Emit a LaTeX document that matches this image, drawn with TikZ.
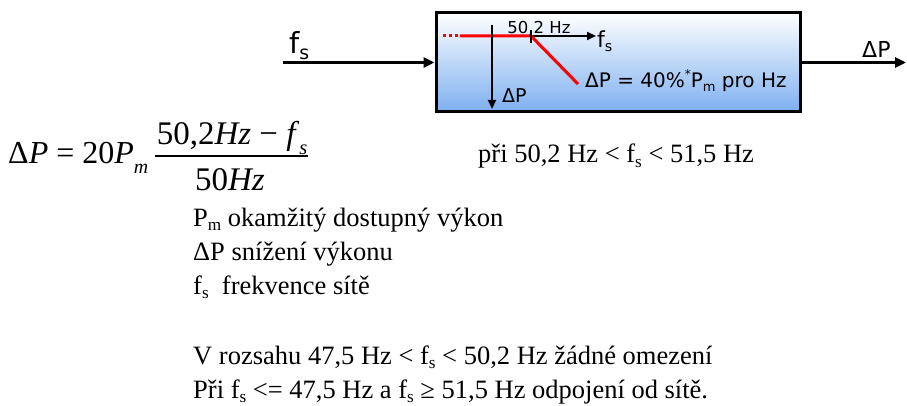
\documentclass[tikz,border=0pt]{standalone}
\usepackage{fontspec}
\usepackage{graphicx}
\setmainfont{Liberation Serif}
\newfontfamily\vsans{DejaVu Sans}
\usetikzlibrary{arrows.meta}
\newcommand{\lsub}[1]{\raisebox{-0.18em}{\scalebox{0.65}{#1}}}
\newcommand{\msub}[1]{\raisebox{-0.3em}{\scalebox{0.62}{#1}}}
\newcommand{\usup}[1]{\raisebox{0.45em}{\scalebox{0.6}{#1}}}
\begin{document}
\begin{tikzpicture}[x=1pt,y=-1pt,
  txt/.style={inner sep=0pt, anchor=base west, font=\fontsize{26.5}{30}\selectfont},
  frm/.style={inner sep=0pt, anchor=base, font=\fontsize{33}{36}\selectfont},
  lbl/.style={inner sep=0pt, anchor=base west},
  conn/.style={line width=3pt, -{Triangle[length=11pt,width=10pt]}},
  axisarrow/.style={line width=2.2pt, -{Triangle[length=9pt,width=8pt]}},
  redl/.style={red, line width=3pt},
  blockbox/.style={draw, line width=3pt, top color=white,
     bottom color={rgb,255:red,125;green,175;blue,240},
     minimum width=364pt, minimum height=99pt, inner sep=0pt}]
\useasboundingbox (0,0) rectangle (907,406);

% block
\node[blockbox] (box) at (618,62.5) {};

% input / output
\coordinate (fin) at (283,62.5);
\coordinate (fout) at (906,62.5);
\draw[conn] (fin) -- (box.west);
\draw[conn] (box.east) -- (fout);
\node[lbl, font=\vsans\fontsize{29}{32}\selectfont] (lfs) at (289,54) {f\lsub{s}};
\node[lbl, font=\vsans\fontsize{22}{26}\selectfont] (ldp) at (862,58) {ΔP};

% inner characteristic
\coordinate (hstart) at (492,36);
\coordinate (hend) at (596,36);
\draw[axisarrow] (hstart) -- (hend);
\coordinate (rd0) at (443,36);
\coordinate (rd1) at (460,36);
\coordinate (knee) at (531,36);
\coordinate (rend) at (578,84);
\draw[redl, dash pattern=on 3pt off 3pt] (rd0) -- (rd1);
\draw[redl] (rd1) -- (knee) -- (rend);
\coordinate (vtop) at (492,25);
\coordinate (vbot) at (492,109);
\draw[axisarrow] (vtop) -- (vbot);
\coordinate (tk1) at (531,30);
\coordinate (tk2) at (531,43);
\draw[line width=2pt] (tk1) -- (tk2);

\node[inner sep=0pt, anchor=base, font=\vsans\fontsize{16.5}{19}\selectfont] (l502) at (539,34) {50,2 Hz};
\node[lbl, font=\vsans\fontsize{22}{26}\selectfont] (lfs2) at (597,48) {f\lsub{s}};
\node[lbl, font=\vsans\fontsize{19}{22}\selectfont] (ldp2) at (502,103) {ΔP};
\node[lbl, font=\vsans\fontsize{20}{24}\selectfont] (lform) at (585,88) {ΔP = 40\%\usup{*}P\lsub{m} pro Hz};

% formula
\node[inner sep=0pt, anchor=base west, font=\fontsize{32}{36}\selectfont] (fl) at (8,164) {Δ\textit{P} = 20\textit{P}\msub{\textit{m}}};
\node[frm] (fnum) at (232,145) {50,2\textit{Hz} − \textit{f}\msub{\textit{s}}};
\node[frm] (fden) at (230,190) {50\textit{Hz}};
\draw[line width=1.5pt] (155,156) -- (308,156);

\node[txt] (pri) at (478,163) {při 50,2 Hz < f\lsub{s} < 51,5 Hz};
\node[txt] (t1) at (193,226) {P\lsub{m} okamžitý dostupný výkon};
\node[txt] (t2) at (193,260) {ΔP snížení výkonu};
\node[txt] (t3) at (193,294) {f\lsub{s}\hspace{0.25em} frekvence sítě};
\node[txt] (t4) at (193,364) {V rozsahu 47,5 Hz < f\lsub{s} < 50,2 Hz žádné omezení};
\node[txt] (t5) at (193,398) {Při f\lsub{s} <= 47,5 Hz a f\lsub{s} ≥ 51,5 Hz odpojení od sítě.};
\end{tikzpicture}
\end{document}
